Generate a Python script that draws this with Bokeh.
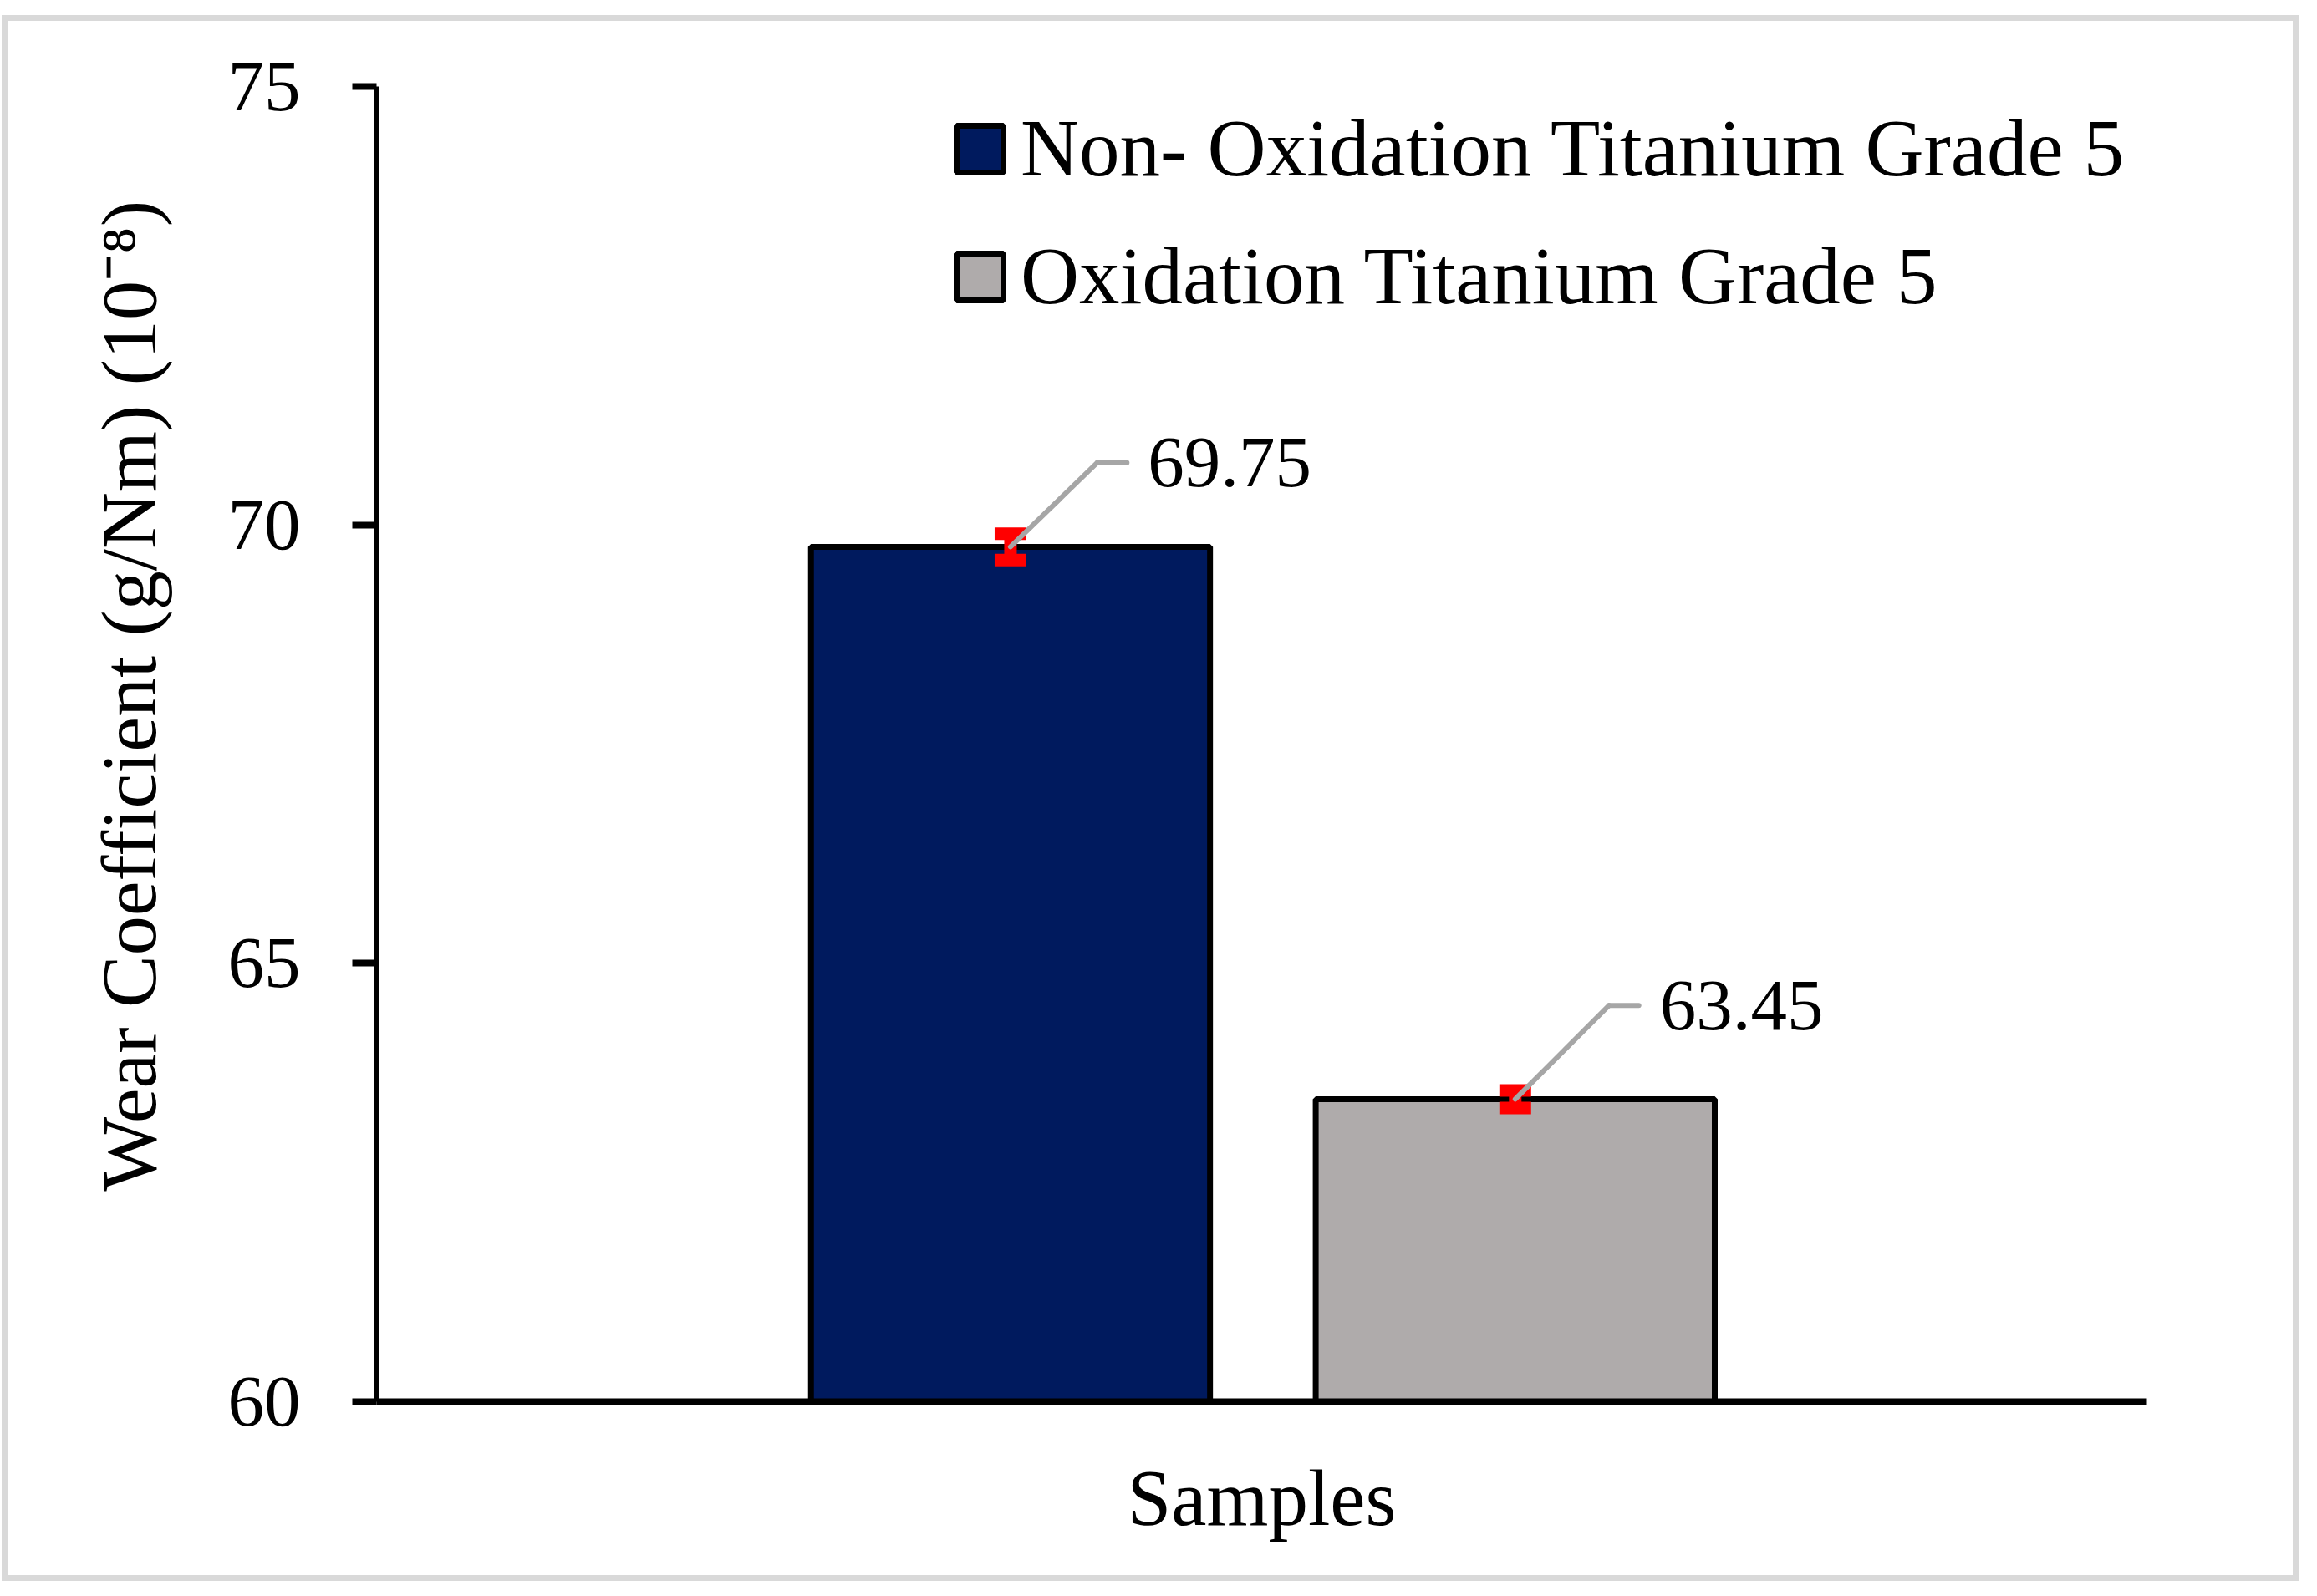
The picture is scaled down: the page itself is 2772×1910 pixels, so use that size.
from bokeh.plotting import figure
from bokeh.models import (ColumnDataSource, FactorRange, Range1d, FixedTicker,
                          Whisker, TeeHead, Title)
from bokeh.transform import dodge
from bokeh.core.properties import value
from bokeh.embed import file_html
from bokeh.resources import INLINE

# ---------------- data ----------------
categories = ["Samples"]
series = ["Non- Oxidation Titanium Grade 5", "Oxidation Titanium Grade 5"]
wear = [69.75, 63.45]
errors = [0.15, 0.10]
value_labels = ["69.75", "63.45"]
colors = ["#001A5E", "#AFABAB"]
y_ticks = [60, 65, 70, 75]
y_min, y_max = 60, 75
y_title = "Wear Coefficient (g/Nm) (10\u207b\u2078)"
x_title = "Samples"

# ---------------- style constants ----------------
FONT = "Liberation Serif"
offsets = [-0.1419, 0.1432]
bar_width = 0.2254
lead_dx = [0.049, 0.053]   # diagonal leader run (x units)
lead_dy = [0.96, 1.07]     # diagonal leader rise (y units)
lead_hx = 0.0168           # horizontal leader part (x units)

p = figure(x_range=FactorRange(*categories, range_padding=0),
           y_range=Range1d(y_min, y_max),
           width=2734, height=1860,
           min_border_left=441, min_border_right=189,
           min_border_top=78, min_border_bottom=222,
           output_backend="svg", toolbar_location=None)

p.styles = {"border": "7px solid #d9d9d9", "margin-left": "2px",
            "margin-top": "18px", "box-sizing": "content-box"}

p.outline_line_color = None
p.xgrid.visible = False
p.ygrid.visible = False
p.background_fill_color = "white"
p.border_fill_color = "white"

# y axis
ya = p.yaxis[0]
ya.ticker = FixedTicker(ticks=y_ticks)
ya.minor_tick_line_color = None
ya.major_tick_in = 0
ya.major_tick_out = 29
ya.major_tick_line_width = 8
ya.major_tick_line_color = "black"
ya.axis_line_width = 7
ya.axis_line_color = "black"
ya.major_label_text_font = FONT
ya.major_label_text_font_size = "87px"
ya.major_label_text_color = "black"
ya.major_label_standoff = 62

# y title beside the axis, starting a little above the frame bottom
p.add_layout(Title(text=y_title, align="left", offset=252, standoff=127,
                   text_font=FONT, text_font_size="94px",
                   text_font_style="normal", text_color="black"), "left")

# x axis
xa = p.xaxis[0]
xa.major_tick_line_color = None
xa.minor_tick_line_color = None
xa.major_tick_in = 0
xa.major_tick_out = 0
xa.major_label_text_color = None
xa.major_label_text_font_size = "10px"
xa.major_label_standoff = 0
xa.axis_line_width = 8
xa.axis_line_color = "black"
xa.axis_label = x_title
xa.axis_label_text_font = FONT
xa.axis_label_text_font_size = "95px"
xa.axis_label_text_font_style = "normal"
xa.axis_label_text_color = "black"
xa.axis_label_standoff = 62

for i in range(len(series)):
    src = ColumnDataSource(dict(
        x=categories,
        top=[wear[i]],
        upper=[wear[i] + errors[i]],
        lower=[wear[i] - errors[i]],
        elbow=[wear[i] + lead_dy[i]],
        label=[value_labels[i]],
    ))
    off = offsets[i]
    dx = lead_dx[i]
    p.vbar(x=dodge("x", off, range=p.x_range), top="top", bottom=y_min,
           width=bar_width, source=src, fill_color=colors[i],
           line_color="black", line_width=7, legend_label=series[i])

    wh = Whisker(base=dodge("x", off, range=p.x_range), upper="upper",
                 lower="lower", source=src, dimension="height",
                 line_color="red", line_width=15, level="annotation",
                 upper_head=TeeHead(size=38, line_color="red", line_width=15),
                 lower_head=TeeHead(size=38, line_color="red", line_width=15))
    p.add_layout(wh)

    r1 = p.segment(x0=dodge("x", off, range=p.x_range), y0="top",
                   x1=dodge("x", off + dx, range=p.x_range), y1="elbow",
                   source=src, line_color="#A6A6A6", line_width=6,
                   line_cap="round")
    r2 = p.segment(x0=dodge("x", off + dx, range=p.x_range), y0="elbow",
                   x1=dodge("x", off + dx + lead_hx, range=p.x_range),
                   y1="elbow", source=src, line_color="#A6A6A6", line_width=6,
                   line_cap="round")
    r1.level = "overlay"
    r2.level = "overlay"

    t = p.text(x=dodge("x", off + dx + lead_hx, range=p.x_range),
               y="elbow", text="label", source=src, x_offset=25,
               text_baseline="middle", text_align="left",
               text_font=value(FONT), text_font_size="87px",
               text_color="black")
    t.level = "overlay"

lg = p.legend[0]
lg.location = (687, 1291)
lg.border_line_color = None
lg.background_fill_alpha = 0
lg.padding = 0
lg.margin = 0
lg.spacing = 42
lg.glyph_width = 70
lg.glyph_height = 70
lg.label_standoff = 14
lg.label_text_font = FONT
lg.label_text_font_size = "97px"
lg.label_text_color = "black"

open("out.html", "w").write(file_html(p, INLINE))
